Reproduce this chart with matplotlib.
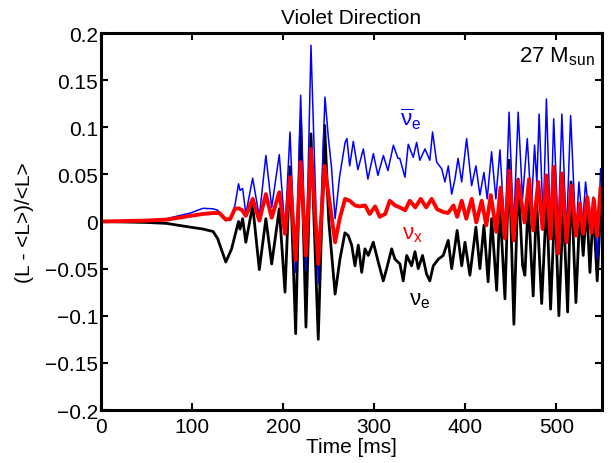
import matplotlib
matplotlib.use("Agg")
import matplotlib.pyplot as plt

# anti electron neutrino (blue)
t_antinue = [0, 50, 72, 98, 112, 123, 128, 137, 140, 142, 147, 151, 152.6, 155.5, 159,
             166.5, 173.8, 181, 187.4, 195.7, 202, 207.5, 213.7, 219.2, 225, 230.5, 238.5,
             245.9, 249.5, 253, 257, 262, 268, 270, 273, 277, 282, 288, 293, 299, 304, 310,
             315, 321, 326, 328, 333.7, 337.3, 342.8, 346.5, 350, 355.7, 361, 364, 368.5,
             374, 377.6, 381.3, 385, 388.6, 392, 396, 401.4, 406.9, 411.6, 416, 420.4, 424,
             428.8, 433.5, 438, 443.5, 448, 453, 458, 462.8, 468, 472.5, 476, 478.5, 481,
             485.5, 489, 493.5, 497, 502, 506, 511, 515.6, 521.4, 524.7, 528.7, 532, 537,
             540.4, 545, 548.5, 550]
antinue = [0, 0.001, 0.003, 0.009, 0.014, 0.0135, 0.012, 0.001, 0.003, 0.001, 0.017, 0.040,
           0.033, 0.035, 0.008, 0.046, 0.005, 0.070, 0.015, 0.071, -0.0095, 0.095, -0.054,
           0.134, -0.052, 0.187, -0.066, 0.132, 0.090, 0.058, 0.003, 0.048, 0.084, 0.088,
           0.059, 0.085, 0.055, 0.077, 0.045, 0.072, 0.049, 0.070, 0.054, 0.081, 0.067,
           0.067, 0.047, 0.082, 0.068, 0.084, 0.065, 0.077, 0.065, 0.095, 0.063, 0.056,
           0.042, 0.059, 0.029, 0.045, 0.067, 0.042, 0.088, 0.038, 0.059, 0.028, 0.052,
           0.024, 0.074, 0.024, 0.076, -0.015, 0.116, -0.008, 0.116, 0.024, 0.088, 0.0135,
           0.081, 0.040, 0.114, -0.001, 0.130, -0.011, 0.109, -0.011, 0.114, -0.015, 0.1125,
           -0.015, 0.042, -0.004, 0.042, -0.004, 0.026, -0.040, 0.056, 0.040]

# heavy-lepton neutrinos (red)
t_nux = [0, 50, 72, 98, 112, 123, 130, 137, 142, 147, 151, 155, 159, 166.5, 173.8, 181,
         187.4, 195.7, 202, 207.5, 213.7, 219.2, 225, 230.5, 238.5, 245.5, 257, 262, 268,
         273, 279, 284, 290, 295, 301, 306, 312, 317, 323, 328, 334, 339, 345, 351, 357,
         363, 369, 376, 381, 387, 391, 396, 401, 407, 412, 418, 423, 428, 434, 438.7,
         443.5, 448.3, 453, 458, 465, 470, 474.5, 480, 484.8, 489, 493.5, 497, 502, 506,
         511, 516.5, 521.4, 525.8, 529.4, 533.8, 538.6, 541, 544.7, 548.5, 550]
nux = [0, 0.001, 0.002, 0.006, 0.008, 0.009, 0.009, 0.002, 0.003, 0.0135, 0.014, 0.012,
       0.006, 0.024, 0.001, 0.029, 0.004, 0.031, -0.013, 0.047, -0.041, 0.063, -0.036,
       0.077, -0.045, 0.059, -0.022, 0.003, 0.024, 0.022, 0.017, 0.016, 0.017, 0.008,
       0.016, 0.005, 0.008, 0.022, 0.017, 0.015, 0.012, 0.022, 0.015, 0.024, 0.015,
       0.024, 0.013, 0.010, 0.009, 0.017, 0.005, 0.022, 0.003, 0.024, -0.001, 0.022,
       -0.004, 0.028, -0.011, 0.036, -0.018, 0.054, -0.020, 0.0435, -0.001, 0.045,
       -0.0095, 0.042, -0.008, 0.049, -0.018, 0.058, -0.034, 0.051, -0.022, 0.038,
       -0.015, 0.019, -0.013, 0.026, -0.012, 0.024, -0.015, 0.036, 0.030]

# electron neutrino (black)
t_nue = [0, 50, 72, 98, 112, 123, 128, 137, 143.4, 147, 151, 152.6, 155.5, 159, 166.5,
         173.8, 181, 187.4, 195.7, 202, 207.5, 213.7, 219.2, 225, 230.5, 238.5, 245.5,
         250, 257, 262.3, 267.8, 271.5, 275.2, 278.8, 282.5, 286.2, 289.8, 293.4, 298.9,
         304.4, 309.9, 313.6, 319.1, 322.7, 328.2, 331.8, 335.6, 341, 344.7, 348.3, 353,
         357.5, 361, 364.8, 370.3, 375.7, 381.2, 385, 391, 396, 399.6, 405, 411.6, 416,
         420.4, 425, 428.9, 434.4, 437.9, 443.5, 448, 453.3, 458, 462.9, 465.4, 469,
         474.5, 478.2, 483.8, 489.2, 493.6, 498.4, 502.7, 507.5, 512.3, 516, 521.4,
         525.8, 529.4, 533.2, 536.8, 540.4, 544.8, 548.5, 550]
nue = [0, -0.001, -0.002, -0.006, -0.008, -0.0106, -0.018, -0.043, -0.029, -0.015, 0.000,
       -0.008, 0.003, -0.022, 0.017, -0.051, 0.003, -0.045, 0.0135, -0.075, 0.058, -0.119,
       0.107, -0.112, 0.093, -0.125, 0.102, 0.001, -0.077, -0.040, -0.012, -0.015, -0.025,
       -0.047, -0.025, -0.054, -0.029, -0.036, -0.022, -0.043, -0.063, -0.050, -0.029,
       -0.040, -0.045, -0.063, -0.036, -0.047, -0.032, -0.050, -0.036, -0.056, -0.063,
       -0.047, -0.040, -0.036, -0.020, -0.050, -0.0095, -0.047, -0.022, -0.057, -0.006,
       -0.050, -0.004, -0.064, 0.003, -0.073, 0.017, -0.082, 0.065, -0.109, 0.045,
       -0.047, -0.057, 0.021, -0.079, 0.024, -0.087, 0.024, -0.093, 0.024, -0.100,
       0.017, -0.096, 0.042, -0.086, 0.0135, -0.036, 0.017, -0.054, 0.0135, -0.063,
       0.0135, 0.0]

xticks = [0, 100, 200, 300, 400, 500]
yticks = [-0.2, -0.15, -0.1, -0.05, 0, 0.05, 0.1, 0.15, 0.2]

plt.rcParams['font.family'] = ['Liberation Sans', 'DejaVu Sans']
plt.rcParams['mathtext.fontset'] = 'custom'
plt.rcParams['mathtext.rm'] = 'Liberation Sans'
plt.rcParams['mathtext.it'] = 'Liberation Sans'
fs = 15

fig = plt.figure(figsize=(6.13, 4.64), dpi=100)
ax = fig.add_axes([0.1648, 0.1142, 0.8172, 0.8125])

line_kw = dict(solid_joinstyle='round', solid_capstyle='round')
ax.plot(t_nue, nue, color='black', lw=2.0, **line_kw)
ax.plot(t_antinue, antinue, color=(0, 0, 1), lw=1.1, **line_kw)
ax.plot(t_nux, nux, color=(1, 0, 0), lw=2.8, **line_kw)

ax.set_xlim(0, 550)
ax.set_ylim(-0.2, 0.2)
ax.set_xticks(xticks)
ax.set_xticklabels([str(v) for v in xticks])
ax.set_yticks(yticks)
ax.set_yticklabels([('%g' % v).replace('-', '\u2212') for v in yticks])
ax.tick_params(direction='in', length=5, width=1.5, top=True, right=True,
               labelsize=fs)
ax.tick_params(axis='x', pad=5)
ax.tick_params(axis='y', pad=2)
for s in ax.spines.values():
    s.set_linewidth(2.2)

ax.set_title('Violet Direction', fontsize=fs, pad=7)
ax.set_xlabel('Time [ms]', fontsize=fs, labelpad=1)
ax.set_ylabel('(L - <L>)/<L>', fontsize=fs, labelpad=8)

ax.text(542, 0.1695, r'27 M$_{\rm sun}$', fontsize=fs + 1, ha='right', va='baseline')
ax.text(340, 0.102, r'$\overline{\nu}_{\rm e}$', fontsize=fs + 1, color=(0, 0, 1),
        ha='center', va='baseline')
ax.text(342, -0.018, r'$\nu_{\rm x}$', fontsize=fs + 1, color=(1, 0, 0),
        ha='center', va='baseline')
ax.text(350, -0.088, r'$\nu_{\rm e}$', fontsize=fs + 1, color='black',
        ha='center', va='baseline')

fig.savefig('out.png', dpi=100)
